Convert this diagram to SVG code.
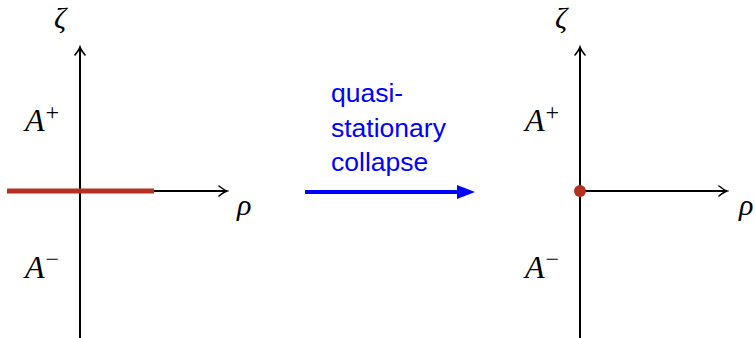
<svg xmlns="http://www.w3.org/2000/svg" width="755" height="338" viewBox="0 0 755 338">
<defs>
<marker id="tip" viewBox="-10 -6 12 12" refX="0" refY="0" markerWidth="12" markerHeight="12" markerUnits="userSpaceOnUse" orient="auto">
<path d="M-8,-5 Q-3,-1 0,0 Q-3,1 -8,5" fill="none" stroke="#000" stroke-width="1.6" stroke-linecap="round"/>
</marker>
</defs>
<style>
.ax{stroke:#000;stroke-width:2;fill:none}
.m{font-family:"Liberation Serif","DejaVu Serif",serif;font-style:italic;font-size:30px;fill:#000}
.cal{font-family:"Liberation Serif","DejaVu Serif",serif;font-style:italic;font-size:32px;fill:#000}
.sup{font-style:normal;font-size:24px}
.lbl{font-family:"Liberation Sans","DejaVu Sans",sans-serif;font-size:26.5px;fill:#0000ff}
</style>
<rect width="755" height="338" fill="#fff"/>
<g id="left-plot">
<line class="ax" x1="80" y1="338" x2="80" y2="47" marker-end="url(#tip)"/>
<line class="ax" x1="80" y1="191" x2="227" y2="191" marker-end="url(#tip)"/>
<line x1="7" y1="191" x2="154" y2="191" stroke="#b5301f" stroke-width="5"/>
<text class="m" x="54" y="28">ζ</text>
<text class="m" x="237" y="215">ρ</text>
<text class="cal" x="25" y="131">A<tspan class="sup" dx="1" dy="-11">+</tspan></text>
<text class="cal" x="25" y="278">A<tspan class="sup" dx="1" dy="-11">−</tspan></text>
</g>
<g id="right-plot">
<line class="ax" x1="580" y1="338" x2="580" y2="47" marker-end="url(#tip)"/>
<line class="ax" x1="580" y1="191" x2="727" y2="191" marker-end="url(#tip)"/>
<circle cx="580" cy="191" r="6" fill="#b5301f"/>
<text class="m" x="555" y="28">ζ</text>
<text class="m" x="739" y="215">ρ</text>
<text class="cal" x="525" y="131">A<tspan class="sup" dx="1" dy="-11">+</tspan></text>
<text class="cal" x="525" y="278">A<tspan class="sup" dx="1" dy="-11">−</tspan></text>
</g>
<g id="connectors">
<line x1="305" y1="192" x2="460" y2="192" stroke="#0000ff" stroke-width="4"/>
<polygon points="475,192 457,185 457,199" fill="#0000ff"/>
<text class="lbl" x="331" y="102">quasi-</text>
<text class="lbl" x="331" y="137">stationary</text>
<text class="lbl" x="331" y="171">collapse</text>
</g>
</svg>
